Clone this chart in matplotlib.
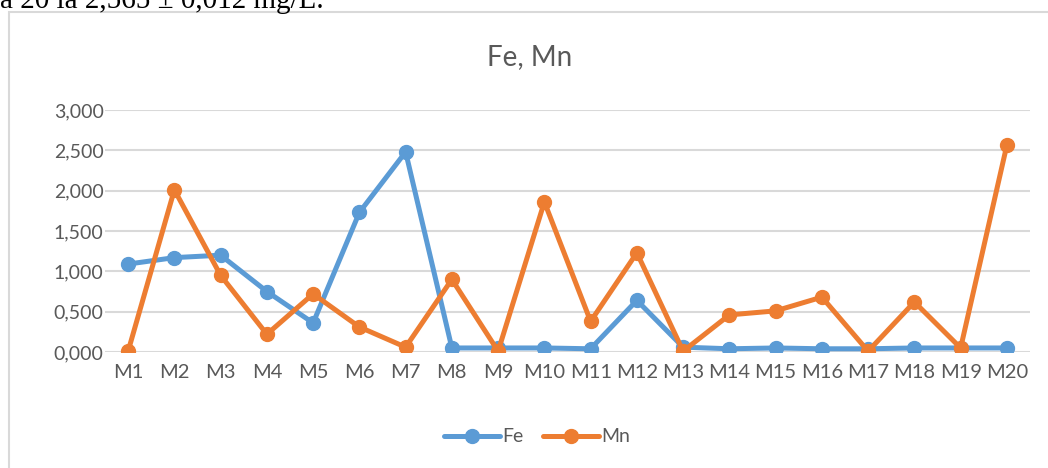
import matplotlib.pyplot as plt
from matplotlib.patches import Rectangle

samples = ['M%d' % i for i in range(1, 21)]
fe = [1.09, 1.17, 1.20, 0.75, 0.36, 1.73, 2.48, 0.05, 0.05, 0.05,
      0.04, 0.64, 0.06, 0.04, 0.05, 0.04, 0.04, 0.05, 0.05, 0.05]
mn = [0.01, 2.01, 0.95, 0.22, 0.72, 0.31, 0.06, 0.90, 0.01, 1.86,
      0.38, 1.23, 0.01, 0.46, 0.51, 0.68, 0.01, 0.62, 0.05, 2.565]
yticks = [0, 0.5, 1.0, 1.5, 2.0, 2.5, 3.0]

plt.rcParams['font.family'] = ['Lato', 'DejaVu Sans']

fig = plt.figure(figsize=(10.48, 4.68), dpi=100)

# line of document text above the chart, cut off at the top
fig.text(0.0, 1 - 8 / 468, 'a 20 là 2,565 ± 0,012 mg/L.', family='Liberation Serif',
         fontsize=21, color='black', va='baseline', ha='left')

# chart frame
fig.patches.append(Rectangle((9 / 1048, -0.05), 1.1, 1 - 12 / 468 + 0.05,
                             transform=fig.transFigure, fill=False,
                             edgecolor='#d9d9d9', linewidth=1.5))

ax = fig.add_axes([105 / 1048, 1 - 352 / 468, 925 / 1048, 242 / 468])
x = range(len(samples))
ax.plot(x, fe, color='#5B9BD5', lw=3.6, marker='o', ms=10, label='Fe',
        solid_joinstyle='round', solid_capstyle='round', zorder=3)
ax.plot(x, mn, color='#ED7D31', lw=3.6, marker='o', ms=10, label='Mn',
        solid_joinstyle='round', solid_capstyle='round', zorder=4)

ax.set_xlim(-0.5, len(samples) - 0.5)
ax.set_ylim(0, 3)
ax.set_yticks(yticks)
ax.set_yticklabels([('%.3f' % v).replace('.', ',') for v in yticks])
ax.set_xticks(list(x))
ax.set_xticklabels(samples)
ax.tick_params(length=0, labelsize=14, labelcolor='#595959')
ax.tick_params(axis='y', pad=1)
ax.tick_params(axis='x', labelsize=14.5, pad=9)
ax.yaxis.grid(True, color='#d9d9d9', lw=1.5)
ax.set_axisbelow(True)
for s in ax.spines.values():
    s.set_visible(False)

fig.text(530 / 1048, 1 - 57 / 468, 'Fe, Mn', fontsize=20, color='#595959',
         ha='center', va='center')

fig.legend(loc='center', bbox_to_anchor=(537 / 1048, 1 - 437 / 468), ncol=2,
           frameon=False, fontsize=14, labelcolor='#595959', handlelength=2.9,
           handletextpad=0.1, columnspacing=1.0)

fig.savefig('out.png', dpi=100)
